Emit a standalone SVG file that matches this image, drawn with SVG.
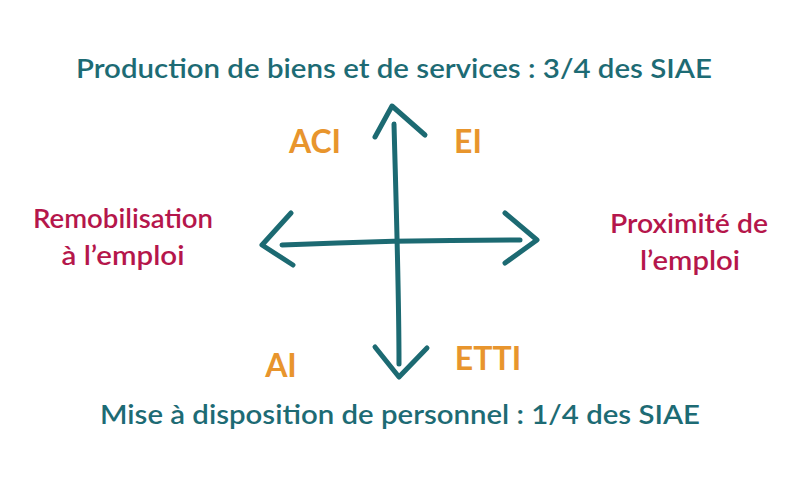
<svg xmlns="http://www.w3.org/2000/svg" width="800" height="488" viewBox="0 0 800 488">
<style>
.axis{fill:none;stroke:#1c6a72;stroke-width:5;stroke-linecap:round;stroke-linejoin:round}
.t{font-family:Lato,"Open Sans","Liberation Sans",sans-serif;font-weight:700}
.teal{fill:#1d6b74;font-size:26.5px;font-weight:600}
.red{fill:#b5164b;font-size:26px;font-weight:600}
.org{fill:#e8952d;font-size:32px}
</style>
<rect width="800" height="488" fill="#ffffff"/>
<g id="connectors">
<path class="axis" d="M394,124 C396,200 399,290 399,364" stroke-width="4.5"/>
<path class="axis" d="M375,137 L392,106 L425,135"/>
<path class="axis" d="M375,347 L399,377 L427,348"/>
<path class="axis" d="M282,245 C350,242 450,240 520,240" stroke-width="4.5"/>
<path class="axis" d="M291,213 L262,245 L293,265"/>
<path class="axis" d="M505,213 L537,240 L505,263"/>
</g>
<g id="top"><text class="t teal" x="394" y="78" text-anchor="middle" textLength="636" lengthAdjust="spacingAndGlyphs">Production de biens et de services : 3/4 des SIAE</text></g>
<g id="bottom"><text class="t teal" x="400" y="424" text-anchor="middle" textLength="600" lengthAdjust="spacingAndGlyphs">Mise à disposition de personnel : 1/4 des SIAE</text></g>
<g id="left"><text class="t red" text-anchor="middle"><tspan x="123" y="228" textLength="180" lengthAdjust="spacingAndGlyphs">Remobilisation</tspan></text><text class="t red" text-anchor="middle"><tspan x="123" y="265" textLength="123" lengthAdjust="spacingAndGlyphs">à l’emploi</tspan></text></g>
<g id="right"><text class="t red" text-anchor="middle"><tspan x="689" y="233" textLength="158" lengthAdjust="spacingAndGlyphs">Proximité de</tspan></text><text class="t red" text-anchor="middle"><tspan x="690" y="270" textLength="100" lengthAdjust="spacingAndGlyphs">l’emploi</tspan></text></g>
<g id="aci"><text class="t org" x="315" y="153" text-anchor="middle">ACI</text></g>
<g id="ei"><text class="t org" x="468" y="153" text-anchor="middle">EI</text></g>
<g id="ai"><text class="t org" x="281" y="377" text-anchor="middle">AI</text></g>
<g id="etti"><text class="t org" x="488" y="370" text-anchor="middle">ETTI</text></g>
</svg>
